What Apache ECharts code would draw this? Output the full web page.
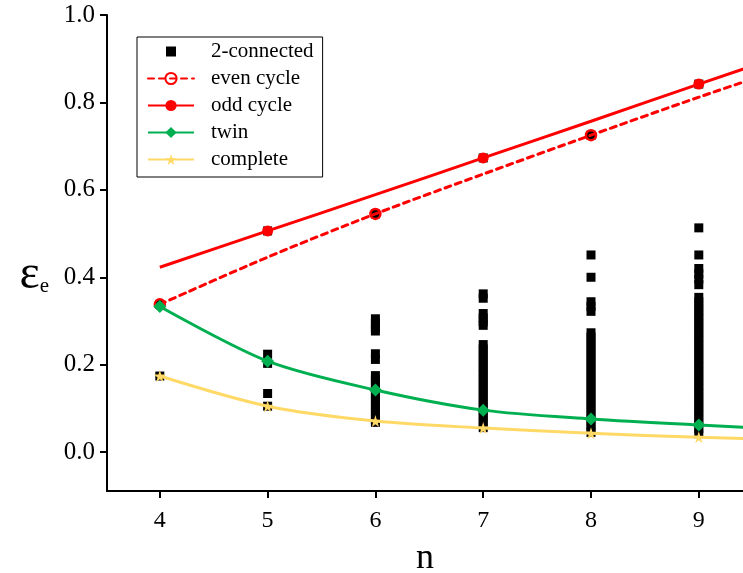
<!DOCTYPE html>
<html>
<head>
<meta charset="utf-8">
<script src="https://cdn.jsdelivr.net/npm/echarts@6/dist/echarts.min.js"></script>
<style>
  html,body{margin:0;padding:0;background:#fff;}
  #main{width:743px;height:573px;}
</style>
</head>
<body>
<div id="main"></div>
<script>
// 横轴 n
var nTicks=[4,5,6,7,8,9];
var yTicks=[0,0.2,0.4,0.6,0.8,1.0];

// 曲线数据
var nLine=[4,5,6,7,8,9,10];
var oddCycle=[0.423,0.506,0.589,0.673,0.757,0.842,0.925];
var evenCycle=[0.338,0.446,0.545,0.636,0.725,0.812,0.895];
var twin=[0.333,0.208,0.142,0.096,0.076,0.062,0.050];
var complete=[0.174,0.105,0.071,0.055,0.043,0.034,0.028];

// 2-connected 散点(每个n一列)
var conn4=[0.338,0.174];
var conn5=[0.506,0.224,0.203,0.134,0.105];
var conn6=[0.545,0.305,0.295,0.285,0.277,0.225,0.212,
  0.175,0.165,0.155,0.145,0.135,0.125,0.115,0.105,0.095,0.085,0.075,0.068];
var conn7=[0.673,0.362,0.352,0.317,0.307,0.298,0.29,
  0.246,0.236,0.226,0.216,0.206,0.196,0.186,0.176,0.166,0.156,0.146,0.136,0.126,0.116,0.106,0.096,0.086,0.076,0.066,0.056];
var conn8=[0.725,0.451,0.400,0.344,0.333,0.322,
  0.273,0.263,0.253,0.243,0.233,0.223,0.213,0.203,0.193,0.183,0.173,0.163,0.153,0.143,0.133,0.123,0.113,0.103,0.093,0.083,0.073,0.063,0.053,0.045];
var conn9=[0.842,0.513,0.451,0.420,0.408,0.396,0.383,
  0.354,0.344,0.334,0.324,0.314,0.304,0.294,0.284,0.274,0.264,0.254,0.244,0.234,0.224,0.214,0.204,0.194,0.184,0.174,0.164,0.154,0.144,0.134,0.124,0.114,0.104,0.094,0.084,0.074,0.064,0.054,0.042];

function pairs(xs,ys){
  var out=[];
  ys.forEach(function(y,i){out.push([xs[i],y]);});
  return out;
}
function column(n,ys){
  return ys.map(function(y){return [n,y];});
}
var connData=[].concat(column(4,conn4),column(5,conn5),column(6,conn6),
  column(7,conn7),column(8,conn8),column(9,conn9));

var serif='"Liberation Serif","Times New Roman",serif';
var myChart=echarts.init(document.getElementById('main'));

var option={
  animation:false,
  backgroundColor:'#fff',
  grid:{left:107,top:15,right:0,bottom:82,containLabel:false,outerBoundsMode:'none'},
  legend:{
    orient:'vertical',
    left:137,top:37,
    borderColor:'#000',borderWidth:1,borderRadius:0,
    padding:[4,9,7,10],
    itemGap:6,
    itemWidth:46,itemHeight:14,
    textStyle:{fontFamily:serif,fontSize:21,color:'#000',padding:[0,0,0,12]},
    data:[
      {name:'2-connected',icon:'path://M0,0 M46,14 M18,2 H28 V12 H18 Z'},
      'even cycle','odd cycle','twin','complete'
    ]
  },
  xAxis:{
    type:'value',min:3.51,max:9.41,
    name:'n',nameLocation:'middle',nameGap:50,
    nameTextStyle:{fontFamily:serif,fontSize:36,color:'#000'},
    axisLine:{onZero:false,lineStyle:{color:'#000',width:2}},
    axisTick:{show:true,length:7,inside:false,customValues:nTicks,lineStyle:{color:'#000',width:2}},
    axisLabel:{customValues:nTicks,margin:18,fontFamily:serif,fontSize:24,color:'#000'},
    splitLine:{show:false}
  },
  yAxis:{
    type:'value',min:-0.089,max:1.0,
    name:'{a|ε}{b|e}',nameLocation:'middle',nameGap:58,nameRotate:0,
    nameTextStyle:{padding:[44,0,0,0],rich:{
      a:{fontFamily:serif,fontSize:48,color:'#000'},
      b:{fontFamily:serif,fontSize:21,color:'#000',padding:[22,0,0,0]}
    }},
    axisLine:{show:true,onZero:false,lineStyle:{color:'#000',width:2}},
    axisTick:{show:true,length:7,inside:false,customValues:yTicks,lineStyle:{color:'#000',width:2}},
    axisLabel:{customValues:yTicks,margin:12,fontFamily:serif,fontSize:25,color:'#000',
      formatter:function(v){return v.toFixed(1);}},
    splitLine:{show:false}
  },
  series:[
    {
      name:'2-connected',type:'scatter',symbol:'rect',symbolSize:9,z:1,
      itemStyle:{color:'#000',opacity:1},
      data:connData
    },
    {
      name:'even cycle',type:'line',z:3,smooth:0.3,
      symbol:'circle',
      symbolSize:function(v){return v[0]%2===0?10:0;},
      itemStyle:{color:'rgba(0,0,0,0)',borderColor:'#ff0000',borderWidth:2.5},
      lineStyle:{color:'#ff0000',width:3,type:[6,5],cap:'round'},
      data:pairs(nLine,evenCycle)
    },
    {
      name:'odd cycle',type:'line',z:3,smooth:0.3,
      symbol:'circle',
      symbolSize:function(v){return v[0]%2===1?11:0;},
      itemStyle:{color:'#ff0000'},
      lineStyle:{color:'#ff0000',width:3},
      data:pairs(nLine,oddCycle)
    },
    {
      name:'twin',type:'line',z:3,smooth:0.3,
      symbol:'diamond',symbolSize:13,
      itemStyle:{color:'#00b050'},
      lineStyle:{color:'#00b050',width:3},
      data:pairs(nLine,twin)
    },
    {
      name:'complete',type:'line',z:3,smooth:0.3,
      symbol:'path://M50,0 L61,35 L98,35 L68,57 L79,92 L50,70 L21,92 L32,57 L2,35 L39,35 Z',
      symbolSize:12,
      itemStyle:{color:'#ffd966'},
      lineStyle:{color:'#ffd966',width:3},
      data:pairs(nLine,complete)
    }
  ]
};

myChart.setOption(option);
</script>
</body>
</html>
